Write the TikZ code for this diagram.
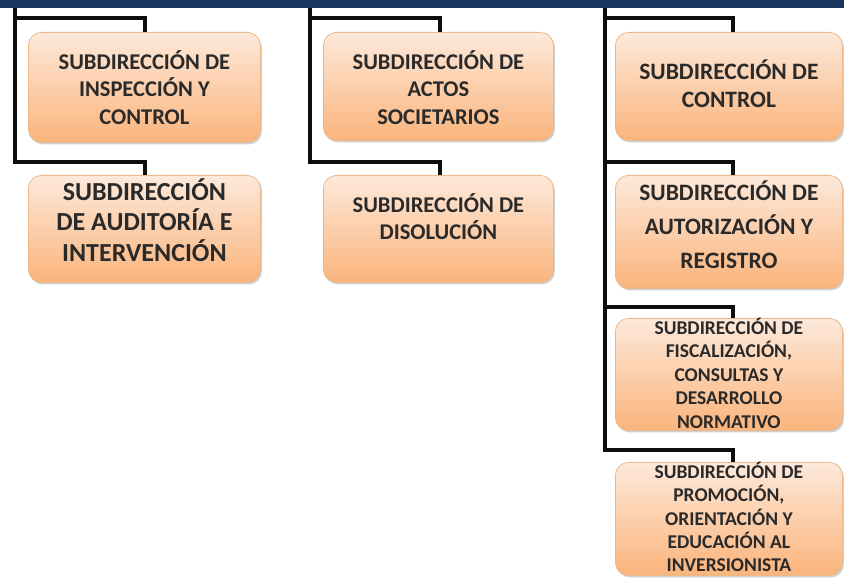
\documentclass[tikz,border=0pt]{standalone}
\usepackage{fontspec}
\setmainfont{Carlito}
\usetikzlibrary{shadows}
\definecolor{barblue}{HTML}{17365D}
\definecolor{boxtop}{HTML}{FDE9DA}
\definecolor{boxbot}{HTML}{FAB47C}
\definecolor{boxline}{HTML}{EBB98C}
\definecolor{txt}{HTML}{2A2A2A}
\newcommand\boxlines[1]{\begin{tabular}[t]{@{}c@{}}#1\end{tabular}}
\tikzset{
 orgbox/.style={draw=boxline, line width=0.8pt, rounded corners=13pt,
   top color=boxtop, bottom color=boxbot, inner sep=0pt, anchor=north west,
   text=txt, drop shadow={shadow xshift=1.5pt, shadow yshift=-2pt, opacity=0.3, fill=black!60}},
 conn/.style={line width=4pt, draw=black!95}
}
\begin{document}
\begin{tikzpicture}[x=1pt,y=-1pt]
\useasboundingbox (0,0) rectangle (844,580);
\fill[white] (0,0) rectangle (844,580);
\fill[barblue] (0,0) rectangle (844,8);

% column 1
\node[orgbox, minimum width=232pt, text height=37pt, text depth=73pt,
  font=\fontsize{22.5}{27.5}\selectfont\bfseries] (b11) at (28,32)
  {\boxlines{SUBDIRECCIÓN DE\\INSPECCIÓN Y\\CONTROL}};
\node[orgbox, minimum width=232pt, text height=25pt, text depth=82pt,
  font=\fontsize{26}{29}\selectfont\bfseries] (b12) at (28,175)
  {\boxlines{SUBDIRECCIÓN\\DE AUDITORÍA E\\INTERVENCIÓN}};

% column 2
\node[orgbox, minimum width=230pt, text height=37pt, text depth=71pt,
  font=\fontsize{22.5}{27.5}\selectfont\bfseries] (b21) at (323,32)
  {\boxlines{SUBDIRECCIÓN DE\\ACTOS\\SOCIETARIOS}};
\node[orgbox, minimum width=230pt, text height=37pt, text depth=70pt,
  font=\fontsize{22.5}{27}\selectfont\bfseries] (b22) at (323,175)
  {\boxlines{SUBDIRECCIÓN DE\\DISOLUCIÓN}};

% column 3
\node[orgbox, minimum width=227pt, text height=47pt, text depth=61pt,
  font=\fontsize{23.5}{28}\selectfont\bfseries] (b31) at (615,32)
  {\boxlines{SUBDIRECCIÓN DE\\CONTROL}};
\node[orgbox, minimum width=227pt, text height=25pt, text depth=88pt,
  font=\fontsize{23.5}{34}\selectfont\bfseries] (b32) at (615,175)
  {\boxlines{SUBDIRECCIÓN DE\\AUTORIZACIÓN Y\\REGISTRO}};
\node[orgbox, minimum width=227pt, text height=16pt, text depth=96pt,
  font=\fontsize{19.5}{23.5}\selectfont\bfseries] (b33) at (615,318)
  {\boxlines{SUBDIRECCIÓN DE\\FISCALIZACIÓN,\\CONSULTAS Y\\DESARROLLO\\NORMATIVO}};
\node[orgbox, minimum width=227pt, text height=16pt, text depth=97pt,
  font=\fontsize{19.5}{23.2}\selectfont\bfseries] (b34) at (615,462)
  {\boxlines{SUBDIRECCIÓN DE\\PROMOCIÓN,\\ORIENTACIÓN Y\\EDUCACIÓN AL\\INVERSIONISTA}};

% connectors
\coordinate (t1) at (15,8);  \coordinate (j1) at (15,18);  \coordinate (e1) at (15,162);
\coordinate (t2) at (310,8); \coordinate (j2) at (310,18); \coordinate (e2) at (310,162);
\coordinate (t3) at (605,8); \coordinate (j31) at (605,18); \coordinate (j32) at (605,162);
\coordinate (j33) at (605,307); \coordinate (e3) at (605,450);

\draw[conn] (j1) -| ([xshift=1pt]b11.north);
\draw[conn] (t1) -- (e1) -| ([xshift=1pt]b12.north);
\draw[conn] (j2) -| ([xshift=2pt]b21.north);
\draw[conn] (t2) -- (e2) -| ([xshift=2pt]b22.north);
\draw[conn] (j31) -| ([xshift=4.5pt]b31.north);
\draw[conn] (j32) -| ([xshift=4.5pt]b32.north);
\draw[conn] (j33) -| ([xshift=4.5pt]b33.north);
\draw[conn] (t3) -- (e3) -| ([xshift=4.5pt]b34.north);
\end{tikzpicture}
\end{document}
